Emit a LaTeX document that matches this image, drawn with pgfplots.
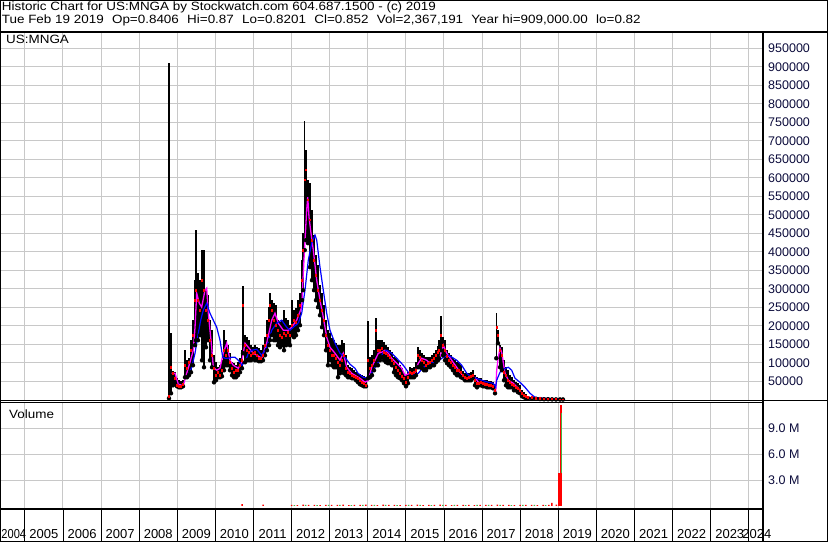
\documentclass[border=0pt]{standalone}
\usepackage{fontspec}
\setmainfont{Liberation Sans}
\newfontfamily\hdrfont[FakeStretch=1.12]{Liberation Sans}
\newfontfamily\narrowfont[FakeStretch=0.85]{Liberation Sans}
\usepackage{pgfplots}
\usepackage{pgfplotstable}
\pgfplotsset{compat=1.18}

\definecolor{gridgray}{RGB}{200,200,200}
\definecolor{ticknavy}{RGB}{12,12,60}
\definecolor{maone}{RGB}{255,0,255}
\definecolor{matwo}{RGB}{0,0,255}
\definecolor{volgreen}{RGB}{70,180,70}

% daily bars (thinned): time, low, high, close
\pgfplotstableread{
t lo hi cl
2008.782 4100 909000 9500
2008.835 17600 179900 87900
2008.887 39200 77100 71700
2008.940 44600 74400 58200
2008.992 36500 58200 39200
2009.045 33800 52800 36500
2009.097 33800 50100 36500
2009.150 36500 52800 41900
2009.202 60900 133900 93300
2009.255 60900 106900 85200
2009.307 66300 112300 101500
2009.360 74400 161000 133900
2009.412 93300 215100 174500
2009.465 147500 323300 269200
2009.491 161000 458600 296300
2009.543 161000 342300 269200
2009.596 174500 323300 242200
2009.648 106900 404500 323300
2009.701 87900 404500 296300
2009.753 142000 296300 242200
2009.806 161000 282700 215100
2009.858 106900 215100 161000
2009.911 87900 188000 120400
2009.963 47300 120400 85200
2010.016 52800 101500 66300
2010.068 60900 87900 74400
2010.121 60900 93300 66300
2010.173 63600 106900 79800
2010.226 79800 188000 133900
2010.278 93300 161000 120400
2010.331 93300 147500 133900
2010.383 79800 125800 101500
2010.436 66300 101500 85200
2010.488 60900 98800 74400
2010.541 60900 93300 79800
2010.593 66300 101500 79800
2010.646 74400 112300 93300
2010.698 85200 133900 106900
2010.724 125800 307100 255700
2010.777 101500 174500 147500
2010.829 106900 169100 133900
2010.882 106900 161000 128500
2010.934 106900 147500 120400
2010.987 112300 142000 125800
2011.039 106900 147500 128500
2011.092 106900 142000 120400
2011.144 104200 139300 112300
2011.197 104200 133900 112300
2011.249 106900 147500 120400
2011.302 120400 169100 147500
2011.354 133900 215100 174500
2011.407 147500 250300 215100
2011.433 161000 288100 255700
2011.486 174500 269200 242200
2011.538 161000 261100 215100
2011.591 161000 255700 201600
2011.643 147500 215100 188000
2011.696 142000 209700 174500
2011.748 147500 215100 169100
2011.801 133900 242200 179900
2011.853 147500 220500 174500
2011.906 152900 215100 182600
2011.958 147500 201600 174500
2012.011 174500 269200 201600
2012.063 169100 242200 215100
2012.116 174500 247600 209700
2012.168 188000 269200 228600
2012.220 201600 288100 255700
2012.273 269200 377400 323300
2012.299 296300 450500 404500
2012.344 404500 753000 593900
2012.378 431500 675100 620900
2012.430 423400 593900 539800
2012.483 358500 585800 485700
2012.535 323300 512700 431500
2012.588 296300 445100 377400
2012.640 269200 391000 336800
2012.693 250300 363900 296300
2012.745 228600 309800 269200
2012.798 196200 288100 242200
2012.850 174500 255700 215100
2012.903 133900 215100 174500
2012.955 93300 188000 147500
2013.008 106900 179900 133900
2013.060 93300 166400 120400
2013.113 87900 161000 120400
2013.165 87900 152900 112300
2013.218 60900 147500 101500
2013.270 71700 147500 93300
2013.323 79800 161000 106900
2013.375 71700 152900 120400
2013.428 66300 120400 85200
2013.480 60900 93300 74400
2013.533 60900 87900 71700
2013.585 58200 85200 66300
2013.638 58200 79800 63600
2013.690 52800 74400 60900
2013.743 47300 71700 58200
2013.795 41900 69000 52800
2013.848 39200 66300 47300
2013.900 36500 63600 44600
2013.953 36500 58200 39200
2014.005 58200 212400 106900
2014.058 60900 115000 85200
2014.110 66300 120400 93300
2014.163 79800 133900 106900
2014.215 93300 220500 188000
2014.268 93300 161000 133900
2014.320 106900 161000 133900
2014.373 115000 161000 139300
2014.425 106900 155600 128500
2014.478 101500 147500 125800
2014.530 98800 142000 120400
2014.583 98800 133900 115000
2014.635 93300 128500 106900
2014.688 74400 115000 98800
2014.740 66300 112300 87900
2014.793 60900 106900 79800
2014.845 58200 93300 71700
2014.898 52800 85200 63600
2014.950 44600 71700 58200
2015.003 36500 66300 47300
2015.055 44600 74400 60900
2015.108 60900 87900 74400
2015.160 60900 85200 71700
2015.213 60900 87900 74400
2015.265 66300 101500 79800
2015.318 87900 142000 120400
2015.370 87900 133900 115000
2015.423 85200 125800 106900
2015.475 79800 120400 101500
2015.528 79800 115000 93300
2015.580 87900 115000 98800
2015.633 87900 115000 101500
2015.685 93300 120400 106900
2015.738 93300 125800 112300
2015.790 101500 133900 120400
2015.843 106900 144700 128500
2015.869 112300 161000 133900
2015.921 133900 225900 174500
2015.974 120400 169100 147500
2016.026 106900 161000 133900
2016.079 98800 133900 117700
2016.131 93300 125800 106900
2016.184 87900 120400 101500
2016.236 79800 112300 93300
2016.289 71700 106900 87900
2016.341 66300 101500 79800
2016.394 66300 101500 79800
2016.446 60900 93300 74400
2016.499 58200 77100 66300
2016.551 52800 71700 60900
2016.604 52800 71700 58200
2016.656 52800 71700 60900
2016.709 52800 74400 63600
2016.761 58200 79800 66300
2016.814 39200 66300 52800
2016.866 33800 60900 44600
2016.919 39200 58200 44600
2016.971 39200 58200 47300
2017.024 36500 52800 44600
2017.076 36500 52800 41900
2017.129 33800 52800 41900
2017.181 33800 50100 39200
2017.234 33800 50100 39200
2017.286 31100 47300 36500
2017.339 17600 41900 25700
2017.373 112300 234000 196200
2017.417 152900 188000 174500
2017.470 87900 147500 133900
2017.522 79800 142000 120400
2017.575 52800 106900 74400
2017.627 39200 87900 66300
2017.680 33800 79800 52800
2017.732 33800 66300 47300
2017.785 33800 60900 41900
2017.837 25700 52800 39200
2017.890 25700 47300 33800
2017.942 20300 44600 31100
2017.995 17600 39200 25700
2018.047 9500 25700 17600
2018.100 6800 20300 12200
2018.152 4100 14900 9500
2018.205 4100 9500 6800
2018.310 2700 9500 6800
2018.415 2700 6800 4100
2018.520 2000 6800 4100
2018.625 1500 5000 3000
2018.730 1500 8000 3000
2018.835 1200 4000 2500
2018.940 1000 3500 2000
2019.045 820 2500 1000
2019.123 820 1500 850
}\bars

% short moving average (magenta)
\pgfplotstableread{
t v
2008.853 71700
2008.940 71700
2009.026 41900
2009.157 39200
2009.247 71700
2009.333 101500
2009.420 133900
2009.465 196200
2009.509 288100
2009.577 261100
2009.640 250300
2009.727 296300
2009.772 301700
2009.814 234000
2009.858 188000
2009.903 142000
2009.945 87900
2010.034 79800
2010.121 85200
2010.207 125800
2010.297 152900
2010.383 106900
2010.470 93300
2010.601 85200
2010.690 101500
2010.777 152900
2010.864 142000
2010.995 125800
2011.092 120400
2011.215 112300
2011.346 152900
2011.478 215100
2011.564 234000
2011.651 207000
2011.782 188000
2011.913 188000
2012.003 196200
2012.134 215100
2012.265 250300
2012.307 342300
2012.352 431500
2012.396 512700
2012.423 547900
2012.457 493800
2012.509 450500
2012.570 404500
2012.659 323300
2012.745 269200
2012.832 223200
2012.921 169100
2013.008 142000
2013.139 125800
2013.270 106900
2013.357 125800
2013.446 87900
2013.577 71700
2013.664 66300
2013.795 58200
2013.927 47300
2014.013 52800
2014.102 87900
2014.189 106900
2014.276 125800
2014.365 128500
2014.451 133900
2014.538 125800
2014.627 112300
2014.759 98800
2014.890 85200
2014.976 66300
2015.108 71700
2015.239 74400
2015.325 98800
2015.415 112300
2015.546 106900
2015.677 93300
2015.764 98800
2015.895 115000
2015.982 147500
2016.071 125800
2016.202 106900
2016.333 87900
2016.420 74400
2016.551 58200
2016.682 58200
2016.814 60900
2016.900 47300
2017.076 44600
2017.252 36500
2017.357 20300
2017.383 79800
2017.425 115000
2017.470 139300
2017.514 128500
2017.601 71700
2017.688 52800
2017.819 44600
2017.950 31100
2018.081 12200
2018.213 6800
2018.564 4100
2019.089 1500
}\mashort

% long moving average (blue)
\pgfplotstableread{
t v
2009.289 66300
2009.378 87900
2009.465 125800
2009.551 179900
2009.614 215100
2009.682 242200
2009.772 261100
2009.858 234000
2009.945 215100
2010.034 196200
2010.121 161000
2010.192 115000
2010.252 112300
2010.339 112300
2010.428 115000
2010.514 115000
2010.601 106900
2010.690 93300
2010.777 101500
2010.864 125800
2010.953 133900
2011.084 136600
2011.215 120400
2011.346 142000
2011.478 188000
2011.609 207000
2011.740 215100
2011.871 196200
2011.958 188000
2012.045 196200
2012.176 207000
2012.265 234000
2012.352 296300
2012.438 377400
2012.528 423400
2012.614 445100
2012.659 431500
2012.745 358500
2012.832 296300
2012.921 234000
2013.008 188000
2013.139 152900
2013.270 125800
2013.402 115000
2013.533 96000
2013.664 85200
2013.743 71700
2013.882 60900
2014.013 58200
2014.144 79800
2014.276 101500
2014.407 128500
2014.496 133900
2014.627 125800
2014.759 112300
2014.932 93300
2015.063 74400
2015.194 66300
2015.325 71700
2015.457 87900
2015.633 98800
2015.808 101500
2015.982 115000
2016.113 120400
2016.210 115000
2016.333 106900
2016.465 93300
2016.596 71700
2016.727 60900
2016.858 58200
2016.990 52800
2017.163 47300
2017.294 44600
2017.357 33800
2017.383 52800
2017.470 74400
2017.556 82500
2017.688 87900
2017.777 79800
2017.864 58200
2017.995 47300
2018.126 33800
2018.257 17600
2018.388 6800
2018.564 4100
2019.089 2000
}\malong

% volume, down days (red) and up days (green)
\pgfplotstableread{
t v
2010.70 220000
2011.25 150000
2012.00 130000
2012.15 100000
2012.30 150000
2012.45 110000
2012.60 120000
2012.75 90000
2012.90 130000
2013.05 110000
2013.20 120000
2013.35 140000
2013.50 100000
2013.65 120000
2013.80 110000
2013.95 150000
2014.10 120000
2014.25 100000
2014.40 140000
2014.55 110000
2014.70 120000
2014.85 100000
2015.00 130000
2015.15 110000
2015.30 150000
2015.45 100000
2015.60 120000
2015.75 110000
2015.90 140000
2016.05 120000
2016.20 100000
2016.35 130000
2016.50 110000
2016.65 120000
2016.80 100000
2016.95 130000
2017.10 110000
2017.25 120000
2017.40 150000
2017.55 110000
2017.70 120000
2017.85 100000
2018.00 130000
2018.15 110000
2018.30 120000
2018.45 100000
2018.60 130000
2018.75 120000
2018.83 350000
2018.95 150000
}\volred

\pgfplotstableread{
t v
2012.07 100000
2012.37 120000
2012.67 90000
2012.97 110000
2013.27 130000
2013.57 100000
2013.87 120000
2014.17 110000
2014.47 130000
2014.77 100000
2015.07 120000
2015.37 110000
2015.67 100000
2015.97 130000
2016.27 110000
2016.57 100000
2016.87 120000
2017.17 110000
2017.47 130000
2017.77 100000
2018.07 120000
2018.37 110000
2018.67 100000
}\volgreen

\pgfplotsset{
  chartpanel/.style={
    scale only axis, width=763pt,
    xmin=2004.3465, xmax=2024.3727,
    scaled x ticks=false, scaled y ticks=false,
    axis line style={draw=none}, tick style={draw=none},
    xtick={2005,...,2024}, xticklabels={},
    grid=major, major grid style={gridgray, line width=1pt},
    yticklabel pos=right,
    yticklabel style={font=\fontsize{12.5}{13}\selectfont, text=ticknavy,
      anchor=west, inner sep=0pt, xshift=5pt},
  },
}

\begin{document}
\begin{tikzpicture}[x=1pt, y=1pt]
\useasboundingbox (0,0) rectangle (830,543);
\fill[white] (0,0) rectangle (830,543);

% price panel
\begin{axis}[chartpanel, at={(0pt,142.5pt)}, anchor=south west,
  height=368.5pt, ymin=-1900, ymax=994100,
  ytick={50000,100000,...,950000},
  yticklabels={50000,100000,150000,200000,250000,300000,350000,400000,
    450000,500000,550000,600000,650000,700000,750000,800000,850000,
    900000,950000}]
\addplot[only marks, mark=none, error bars/.cd, y dir=plus, y explicit,
  error mark=none, error bar style={black, line width=1.3pt}]
  table[x=t, y=lo, y error expr=\thisrow{hi}-\thisrow{lo}] {\bars};
\addplot[only marks, mark=square*, mark size=0.6pt, red,
  mark options={draw=none, fill=red}] table[x=t, y=cl] {\bars};
\addplot[maone, line width=1.3pt, mark=none] table[x=t, y=v] {\mashort};
\addplot[matwo, line width=1.2pt, mark=none] table[x=t, y=v] {\malong};
\end{axis}

% volume panel
\begin{axis}[chartpanel, at={(0pt,34.5pt)}, anchor=south west,
  height=106pt, ymin=-302000, ymax=12000000,
  ytick={3000000,6000000,9000000}, yticklabels={3.0 M,6.0 M,9.0 M}]
\addplot[ybar, bar shift=0pt, bar width=1.5pt, fill=red, draw=none]
  table[x=t, y=v] {\volred};
\addplot[ybar, bar shift=0pt, bar width=1.5pt, fill=volgreen, draw=none]
  table[x=t, y=v] {\volgreen};
\addplot[ybar, bar shift=0pt, bar width=2.3pt, fill=red, draw=none]
  coordinates {(2019.015,3850000)};
\addplot[ybar, bar shift=0pt, bar width=1.7pt, fill=red, draw=none]
  coordinates {(2019.062,11700000)};
\addplot[ybar, bar shift=0pt, bar width=1.3pt, fill=volgreen, draw=none]
  coordinates {(2019.090,10750000)};
\addplot[ybar, bar shift=0pt, bar width=1.3pt, fill=red, draw=none]
  coordinates {(2019.090,3850000)};
\end{axis}

% year row
\begin{axis}[chartpanel, at={(0pt,1.3pt)}, anchor=south west,
  height=32.7pt, ymin=0, ymax=1, ytick=\empty, clip=false,
  major grid style={black, line width=0.9pt}]
\pgfplotsinvokeforeach{2005,...,2023}{
  \node[font=\fontsize{13}{13}\selectfont, inner sep=0pt] at (axis cs:#1.5,0.24) {#1};
}
\node[anchor=west, font=\narrowfont\fontsize{13}{13}\selectfont, inner sep=0pt]
  at (axis cs:2004.38,0.24) {2004};
\node[font=\fontsize{13}{13}\selectfont, inner sep=0pt] at (axis cs:2024.21,0.24) {2024};
\end{axis}

% frame and panel rules
\draw[line width=2pt] (0,511) -- (828,511);
\draw[line width=1.3pt] (0,142.7) -- (828,142.7);
\draw[line width=1.3pt] (0,140.4) -- (763,140.4);
\draw[line width=2pt] (0,34) -- (763,34);
\draw[line width=2pt] (763,511) -- (763,1.3);
\draw[line width=1.2pt] (0.6,542.4) -- (827.7,542.4) -- (827.7,1.3) -- (0.6,1.3) -- cycle;

% titles
\node[anchor=base west, inner sep=0pt, font=\hdrfont\fontsize{12}{13}\selectfont]
  at (1.7,532.7) {Historic Chart for US:MNGA by Stockwatch.com 604.687.1500 - (c) 2019};
\node[anchor=base west, inner sep=0pt, font=\hdrfont\fontsize{12}{13}\selectfont]
  at (1.7,519) {Tue Feb 19 2019\hspace{8.3pt}Op=0.8406\hspace{8.3pt}Hi=0.87\hspace{8.3pt}Lo=0.8201\hspace{8.3pt}Cl=0.852\hspace{8.3pt}Vol=2,367,191\hspace{8.3pt}Year hi=909,000.00\hspace{8.3pt}lo=0.82};
\node[anchor=base west, inner sep=0pt, font=\hdrfont\fontsize{12}{13}\selectfont]
  at (6,499.7) {US:MNGA};
\node[anchor=base west, inner sep=0pt, font=\hdrfont\fontsize{12}{13}\selectfont]
  at (9,124.7) {Volume};
\end{tikzpicture}
\end{document}
